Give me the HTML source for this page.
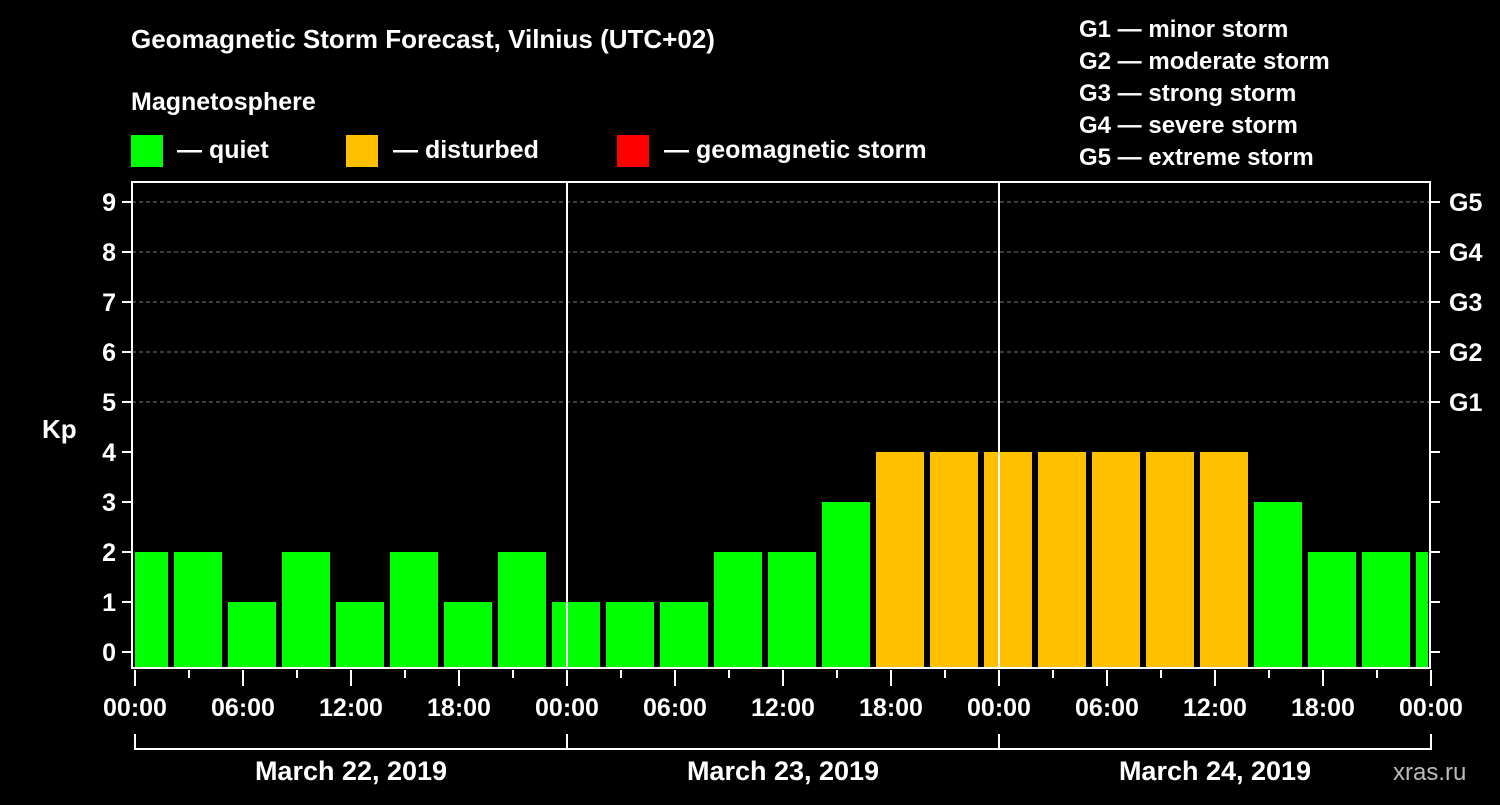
<!DOCTYPE html>
<html><head><meta charset="utf-8"><style>
html,body{margin:0;padding:0;background:#000;}
svg text{font-family:"Liberation Sans",Arial,sans-serif;font-weight:bold;fill:#fff;}
</style></head><body>
<svg width="1500" height="800" viewBox="0 0 1500 800" xmlns="http://www.w3.org/2000/svg">
<rect width="1500" height="800" fill="#000"/>
<text x="131" y="48" font-size="26">Geomagnetic Storm Forecast, Vilnius (UTC+02)</text>
<text x="131" y="110" font-size="25">Magnetosphere</text>
<g>
<rect x="131" y="135" width="32" height="32" fill="#00ff00"/>
<text x="177" y="158" font-size="25">— quiet</text>
<rect x="346" y="135" width="32" height="32" fill="#ffc000"/>
<text x="393" y="158" font-size="25">— disturbed</text>
<rect x="617" y="135" width="32" height="32" fill="#ff0000"/>
<text x="664" y="158" font-size="25">— geomagnetic storm</text>
</g>
<g font-size="24">
<text x="1079" y="37" font-size="24">G1 — minor storm</text>
<text x="1079" y="69" font-size="24">G2 — moderate storm</text>
<text x="1079" y="101" font-size="24">G3 — strong storm</text>
<text x="1079" y="133" font-size="24">G4 — severe storm</text>
<text x="1079" y="165" font-size="24">G5 — extreme storm</text>
</g>
<g id="plot"></g>
<text x="42" y="438" font-size="26">Kp</text>
<text x="1393" y="780" font-size="24" style="fill:#bbb;font-weight:normal">xras.ru</text>
</svg>
<script>
const kpValues = [2,2,1,2,1,2,1,2,1,1,1,2,2,3,4,4,4,4,4,4,4,3,2,2,2];
const dayLabels = ["March 22, 2019","March 23, 2019","March 24, 2019"];
const timeLabels = ["00:00","06:00","12:00","18:00"];
const gLabels = ["G1","G2","G3","G4","G5"];
const yTicks = [0,1,2,3,4,5,6,7,8,9];

const NS="http://www.w3.org/2000/svg";
const g=document.getElementById('plot');
const X0=135, PXH=18, L=132, R=1430, T=182, B=668;
const xs=h=>X0+h*PXH;
const ys=k=>652-50*k;
function el(tag,attrs,parent){const e=document.createElementNS(NS,tag);for(const k in attrs)e.setAttribute(k,attrs[k]);(parent||g).appendChild(e);return e;}
// grid
[5,6,7,8,9].forEach(k=>{
 const l=el('line',{x1:L,x2:R,y1:ys(k),y2:ys(k),stroke:'#777','stroke-dasharray':'4,3','stroke-width':1});
 
 
});
// bars
const clip=el('clipPath',{id:'pc'});el('rect',{x:L+3,y:T,width:R-L-5,height:B-T},clip);
const bg=el('g',{'clip-path':'url(#pc)'});
kpValues.forEach((v,i)=>{
 const c=3*i+0.5;
 const r=el('rect',{x:xs(c)-24,y:ys(v),width:48,height:B-ys(v),fill:v>=5?'#ff0000':(v>=4?'#ffc000':'#00ff00')},bg);
 
 
});
// day lines
[1,2].forEach(d=>{
 const l=el('line',{x1:xs(24*d),x2:xs(24*d),y1:T,y2:B,stroke:'#fff','stroke-width':2});
 
 
});
// frame
const f=el('rect',{x:L,y:T,width:R-L,height:B-T,fill:'none',stroke:'#fff','stroke-width':2});


// y ticks
yTicks.forEach(k=>{
 el('line',{x1:122,x2:L,y1:ys(k),y2:ys(k),stroke:'#fff','stroke-width':2});
 el('line',{x1:R,x2:R+10,y1:ys(k),y2:ys(k),stroke:'#fff','stroke-width':2});
 const t=el('text',{x:116,y:ys(k)+9,'text-anchor':'end','font-size':25});t.textContent=k;
 
 
});
gLabels.forEach((s,i)=>{
 const t=el('text',{x:1449,y:ys(5+i)+9,'font-size':25});t.textContent=s;
 
 
});
// x ticks
for(let h=0;h<=72;h+=3){
 const long=h%6===0;
 el('line',{x1:xs(h),x2:xs(h),y1:670,y2:long?686:678,stroke:'#fff','stroke-width':2});
 if(h%6===0){const t=el('text',{x:xs(h),y:716,'text-anchor':'middle','font-size':25});t.textContent=timeLabels[(h/6)%4];
 
 }
}
// date bracket
el('line',{x1:xs(0),x2:xs(72),y1:749,y2:749,stroke:'#fff','stroke-width':2});
for(let d=0;d<=3;d++) el('line',{x1:xs(24*d),x2:xs(24*d),y1:734,y2:750,stroke:'#fff','stroke-width':2});
dayLabels.forEach((s,d)=>{
 const t=el('text',{x:xs(24*d+12),y:780,'text-anchor':'middle','font-size':27});t.textContent=s;
 
 
});
</script>
</body></html>
